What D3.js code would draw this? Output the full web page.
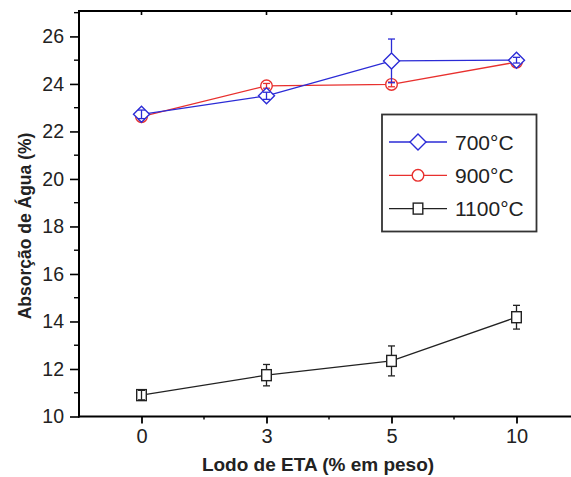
<!DOCTYPE html>
<html>
<head>
<meta charset="utf-8">
<script src="https://cdn.jsdelivr.net/npm/d3@7"></script>
<style>
  body { margin: 0; background: #fff; }
  svg { display: block; font-family: "Liberation Sans", Arial, sans-serif; }
</style>
</head>
<body>
<div class="chart"></div>
<script>
// data
const categories = ["0", "3", "5", "10"]
const yTicks = [10, 12, 14, 16, 18, 20, 22, 24, 26]

const v700 = [22.72, 23.5, 24.97, 25.0]
const e700 = [0.18, 0.15, 0.92, 0.12]
const v900 = [22.62, 23.92, 23.98, 24.92]
const e900 = [0.12, 0.1, 0.1, 0.1]
const v1100 = [10.9, 11.74, 12.34, 14.18]
const e1100 = [0.2, 0.45, 0.63, 0.5]

const seriesNames = ["700°C", "900°C", "1100°C"]

const width = 571
const height = 477
const margin = ({top: 11, right: -8, bottom: 60.5, left: 79})

const x = d3.scalePoint()
    .domain(categories)
    .range([margin.left, width - margin.right])
    .padding(0.5)

const y = d3.scaleLinear()
    .domain([10, 27.07])
    .range([height - margin.bottom, margin.top])

const svg = d3.select(".chart").append("svg")
    .attr("width", width)
    .attr("height", height)

const series = [
    {name: seriesNames[2], values: v1100, errs: e1100, color: "#222", shape: "square"},
    {name: seriesNames[1], values: v900, errs: e900, color: "#e8302e", shape: "circle"},
    {name: seriesNames[0], values: v700, errs: e700, color: "#2b2bd6", shape: "diamond"},
]

const half = {square: 5.5, circle: 5.8, diamond: 8}

function marker(g, shape, color, cx, cy) {
    if (shape === "circle") {
        g.append("circle").attr("cx", cx).attr("cy", cy).attr("r", half.circle)
            .attr("fill", "#fff").attr("stroke", color).attr("stroke-width", 1.4)
    } else if (shape === "square") {
        g.append("rect").attr("x", cx - 4.8).attr("y", cy - half.square)
            .attr("width", 9.6).attr("height", half.square * 2)
            .attr("fill", "#fff").attr("stroke", color).attr("stroke-width", 1.4)
    } else {
        const s = half.diamond
        g.append("path")
            .attr("d", `M${cx},${cy - s}L${cx + s},${cy}L${cx},${cy + s}L${cx - s},${cy}Z`)
            .attr("fill", "#fff").attr("stroke", color).attr("stroke-width", 1.4)
    }
}

// series
series.forEach(s => {
    const g = svg.append("g")
    const pts = s.values.map((v, i) => ({c: categories[i], v: v, e: s.errs[i]}))

    g.append("path")
        .datum(pts)
        .attr("fill", "none")
        .attr("stroke", s.color)
        .attr("stroke-width", 1.3)
        .attr("d", d3.line().x(d => x(d.c)).y(d => y(d.v)))

    pts.forEach(d => {
        const cx = x(d.c), cy = y(d.v)
        marker(g, s.shape, s.color, cx, cy)
        const top = y(d.v + d.e), bot = y(d.v - d.e)
        const h = half[s.shape]
        if (cy - top > h) {
            g.append("line").attr("x1", cx).attr("x2", cx).attr("y1", top).attr("y2", cy - h)
                .attr("stroke", s.color).attr("stroke-width", 1.3)
            g.append("line").attr("x1", cx).attr("x2", cx).attr("y1", cy + h).attr("y2", bot)
                .attr("stroke", s.color).attr("stroke-width", 1.3)
        } else {
            g.append("line").attr("x1", cx).attr("x2", cx).attr("y1", top).attr("y2", bot)
                .attr("stroke", s.color).attr("stroke-width", 1.3)
        }
        ;[top, bot].forEach(yy => {
            g.append("line").attr("x1", cx - 3.5).attr("x2", cx + 3.5).attr("y1", yy).attr("y2", yy)
                .attr("stroke", s.color).attr("stroke-width", 1.3)
        })
    })
})

// axes
const minorY = d3.range(11, 28, 2)
const midX = categories.slice(1).map((c, i) => (x(categories[i]) + x(c)) / 2)
const x0 = margin.left, x1 = width - margin.right
const yb = height - margin.bottom, yt = margin.top

const yAxis = g => g
    .attr("transform", `translate(${x0},0)`)
    .style("font-size", "19.5px")
    .call(d3.axisLeft(y).tickValues(yTicks).tickSize(9).tickPadding(6).tickSizeOuter(0))
    .call(g => g.select(".domain").attr("stroke-width", 2).attr("d", `M0,${yt - 1}V${yb + 1}`))
    .call(g => g.selectAll(".tick line").attr("stroke-width", 1.6))
    .call(g => g.selectAll(".tick text").attr("fill", "#222"))

svg.append("g").call(yAxis)

svg.append("g").selectAll("line")
    .data(minorY)
    .join("line")
    .attr("x1", x0 - 5).attr("x2", x0)
    .attr("y1", d => y(d)).attr("y2", d => y(d))
    .attr("stroke", "#000").attr("stroke-width", 1.4)

const xAxis = g => g
    .attr("transform", `translate(0,${yb})`)
    .style("font-size", "20px")
    .call(d3.axisBottom(x).tickSize(7).tickPadding(5).tickSizeOuter(0))
    .call(g => g.select(".domain").attr("stroke-width", 2).attr("d", `M${x0 - 1},0H${x1}`))
    .call(g => g.selectAll(".tick line").attr("stroke-width", 1.8))
    .call(g => g.selectAll(".tick text").attr("fill", "#222"))

svg.append("g").call(xAxis)

svg.append("g").selectAll("line")
    .data(midX)
    .join("line")
    .attr("x1", d => d).attr("x2", d => d)
    .attr("y1", yb).attr("y2", yb + 3)
    .attr("stroke", "#000").attr("stroke-width", 1.4)

// top axis
const topAxis = svg.append("g")
topAxis.append("line")
    .attr("x1", x0 - 1).attr("x2", x1).attr("y1", yt).attr("y2", yt)
    .attr("stroke", "#000").attr("stroke-width", 2)
topAxis.selectAll(".t")
    .data(categories)
    .join("line")
    .attr("x1", d => x(d)).attr("x2", d => x(d))
    .attr("y1", yt).attr("y2", yt + 4)
    .attr("stroke", "#000").attr("stroke-width", 1.6)

// axis titles
svg.append("text")
    .attr("x", 318)
    .attr("y", 471)
    .attr("text-anchor", "middle")
    .style("font-size", "19px")
    .style("font-weight", "bold")
    .attr("fill", "#222")
    .text("Lodo de ETA (% em peso)")

svg.append("text")
    .attr("transform", "translate(31,226) rotate(-90)")
    .attr("text-anchor", "middle")
    .style("font-size", "17.5px")
    .style("font-weight", "bold")
    .attr("fill", "#222")
    .text("Absorção de Água (%)")

// legend
const legend = svg.append("g")
legend.append("rect")
    .attr("x", 382).attr("y", 114.5)
    .attr("width", 154.5).attr("height", 117)
    .attr("fill", "#fff").attr("stroke", "#333").attr("stroke-width", 1.8)

const legendRows = [series[2], series[1], series[0]]
legendRows.forEach((s, i) => {
    const ly = 142 + i * 33.3
    legend.append("line")
        .attr("x1", 389).attr("x2", 447).attr("y1", ly).attr("y2", ly)
        .attr("stroke", s.color).attr("stroke-width", 1.3)
    marker(legend, s.shape, s.color, 418, ly)
    legend.append("text")
        .attr("x", 455).attr("y", ly + 7.5)
        .style("font-size", "21px")
        .attr("fill", "#222")
        .text(s.name)
})
</script>
</body>
</html>
